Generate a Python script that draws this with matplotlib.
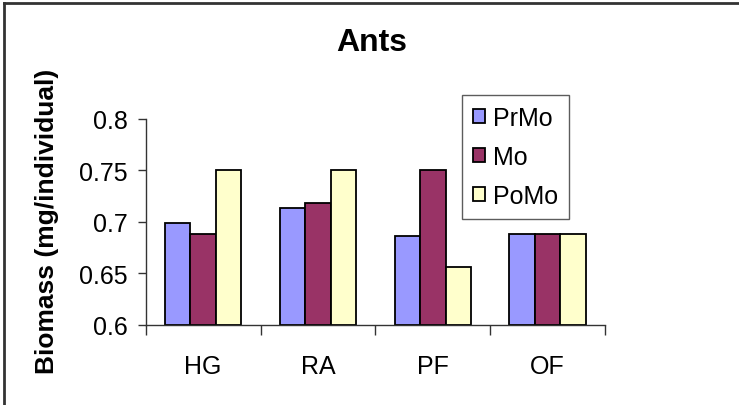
import numpy as np
import matplotlib
matplotlib.use('Agg')
import matplotlib.pyplot as plt
from matplotlib.lines import Line2D

# data
sites = ['HG', 'RA', 'PF', 'OF']
prmo = [0.699, 0.713, 0.686, 0.688]
mo = [0.688, 0.718, 0.750, 0.688]
pomo = [0.750, 0.750, 0.656, 0.688]
series = ['PrMo', 'Mo', 'PoMo']
colors = ['#9999FF', '#993366', '#FFFFCC']
yticks = [0.6, 0.65, 0.7, 0.75, 0.8]
ytick_labels = ['0.6', '0.65', '0.7', '0.75', '0.8']

plt.rcParams['font.family'] = ['Liberation Sans', 'DejaVu Sans']

fig = plt.figure(figsize=(7.39, 4.06), dpi=100)
ax = fig.add_axes([145.7 / 739, 1 - 325.7 / 406, (605 - 145.7) / 739, (325.7 - 120) / 406])

x = np.arange(len(sites))
w = 0.222
for i, (vals, name, c) in enumerate(zip([prmo, mo, pomo], series, colors)):
    ax.bar(x + (i - 1) * w, np.array(vals) - 0.6, width=w, bottom=0.6, color=c,
           edgecolor='black', linewidth=1.3, label=name, zorder=2)

ax.set_xlim(-0.5, 3.5)
ax.set_ylim(0.6, 0.8)
ax.set_yticks(yticks)
ax.set_yticklabels(ytick_labels, fontsize=18)
ax.set_xticks(x)
ax.set_xticklabels(sites, fontsize=18)
ax.set_xticks(np.arange(-0.5, 4.0, 1.0), minor=True)
ax.tick_params(axis='x', which='major', length=0, pad=21)
ax.tick_params(axis='x', which='minor', length=7, width=1, color='#333333', direction='out')
ax.tick_params(axis='y', length=6, width=1, color='#333333', direction='out', pad=7)

for s in ['top', 'right']:
    ax.spines[s].set_visible(False)
for s in ['left', 'bottom']:
    ax.spines[s].set_color('#333333')
    ax.spines[s].set_linewidth(1)

fig.text(372 / 739, 1 - 43 / 406, 'Ants', fontsize=23, fontweight='bold', ha='center', va='center')
fig.text(47 / 739, 1 - 221 / 406, 'Biomass (mg/individual)', fontsize=19, fontweight='bold',
         rotation=90, ha='center', va='center')

leg = ax.legend(loc='upper left', bbox_to_anchor=(461.7 / 739, 1 - 95.7 / 406),
                bbox_transform=fig.transFigure, fontsize=18, frameon=True, fancybox=False,
                handlelength=0.5, handleheight=0.5, handletextpad=0.3,
                labelspacing=0.6, borderpad=0.45, borderaxespad=0)
leg.get_frame().set_edgecolor('#333333')
leg.get_frame().set_linewidth(1)

# outer chart border (top and left edges visible in the reference)
fig.add_artist(Line2D([3.5 / 739, 3.5 / 739], [0, 1 - 4 / 406], transform=fig.transFigure,
                      color='#333333', linewidth=2))
fig.add_artist(Line2D([3.5 / 739, 1], [1 - 4 / 406, 1 - 4 / 406], transform=fig.transFigure,
                      color='#333333', linewidth=2))

fig.savefig('out.png', dpi=100)
